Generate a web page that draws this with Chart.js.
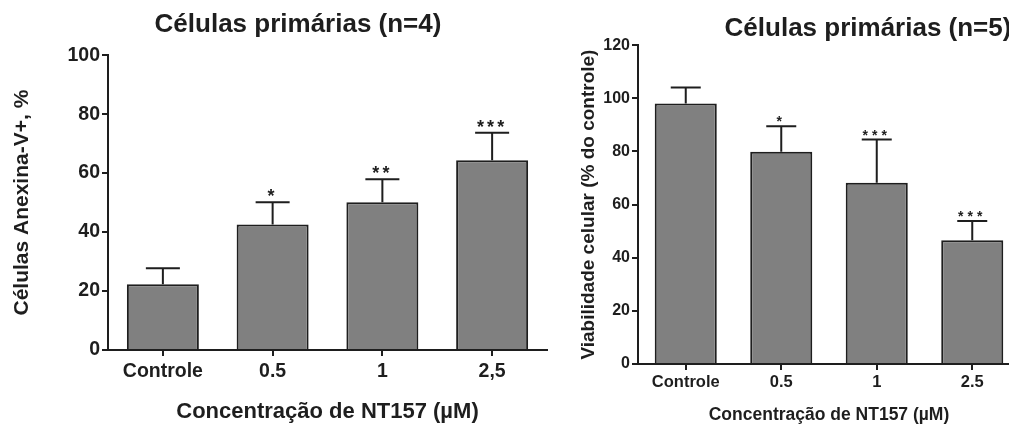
<!DOCTYPE html>
<html>
<head>
<meta charset="utf-8">
<script src="https://cdn.jsdelivr.net/npm/chart.js@4"></script>
<style>
  html, body { margin: 0; padding: 0; background: #fff; }
  body { width: 1009px; height: 424px; overflow: hidden; position: relative; }
  canvas { position: absolute; top: 0; }
  #anexina { left: 0; }
  #viab { left: 560px; }
</style>
</head>
<body>
<canvas id="anexina" width="596" height="424"></canvas>
<canvas id="viab" width="616" height="424"></canvas>
<script>
// doses NT157
const anexinaLabels = ['Controle', '0.5', '1', '2,5'];
const viabLabels = ['Controle', '0.5', '1', '2.5'];

// % células Anexina-V+ (n=4), média e erro
const anexinaMean = [22.3, 42.6, 50.1, 64.4];
const anexinaErr = [5.4, 7.5, 7.8, 9.3];
const anexinaSig = ['', '*', '**', '***'];

// viabilidade (% do controle, n=5)
const viabMean = [98.1, 79.9, 68.2, 46.6];
const viabErr = [6.0, 9.6, 16.3, 7.2];
const viabSig = ['', '*', '***', '***'];

const INK = '#1e1e1e';
Chart.defaults.font.family = "'Liberation Sans', Arial, sans-serif";
Chart.defaults.font.weight = 'bold';
Chart.defaults.color = INK;

// barra de erro (só para cima) + asteriscos de significância
const errorBars = {
  id: 'errorBars',
  afterDatasetsDraw(chart, args, opts){
    const ctx = chart.ctx;
    const y = chart.scales.y;
    const meta = chart.getDatasetMeta(0);
    const vals = chart.data.datasets[0].data;
    ctx.save();
    ctx.strokeStyle = INK;
    ctx.lineWidth = opts.lineWidth;
    ctx.fillStyle = INK;
    ctx.font = opts.font;
    ctx.textAlign = 'center';
    ctx.textBaseline = 'alphabetic';
    ctx.letterSpacing = opts.spacing;
    meta.data.forEach((bar, i) => {
      const top = y.getPixelForValue(vals[i] + opts.errors[i]);
      ctx.beginPath();
      ctx.moveTo(bar.x, bar.y);
      ctx.lineTo(bar.x, top);
      ctx.moveTo(bar.x - opts.cap / 2, top);
      ctx.lineTo(bar.x + opts.cap / 2, top);
      ctx.stroke();
      if(opts.marks[i]) ctx.fillText(opts.marks[i], bar.x, top + opts.markOffset);
    });
    ctx.restore();
  }
};

function axisStyle(){
  return {
    border: { color: INK, width: 2 },
    grid: { drawOnChartArea: false, drawTicks: true, tickLength: 6, color: INK, lineWidth: 2, offset: false }
  };
}

function makeChart(id, cfg){
  return new Chart(document.getElementById(id), {
    type: 'bar',
    data: {
      labels: cfg.labels,
      datasets: [{
        data: cfg.mean,
        backgroundColor: '#808080',
        borderColor: INK,
        borderWidth: 2,
        categoryPercentage: 1,
        barPercentage: cfg.barPct
      }]
    },
    plugins: [errorBars],
    options: {
      responsive: false,
      animation: false,
      layout: { padding: 0 },
      plugins: {
        legend: { display: false },
        tooltip: { enabled: false },
        title: {
          display: true,
          text: cfg.title,
          color: INK,
          font: { size: 26, weight: 'bold', lineHeight: 1.2 },
          padding: cfg.titlePad
        },
        errorBars: {
          errors: cfg.err, marks: cfg.sig, cap: cfg.cap, lineWidth: 2,
          font: cfg.markFont, spacing: cfg.markSpacing, markOffset: 0
        }
      },
      scales: {
        x: {
          ...axisStyle(),
          afterFit: s => { s.height = cfg.xHeight; },
          ticks: { font: { size: cfg.tickSize, weight: 'bold' }, padding: cfg.xTickPad, maxRotation: 0 },
          title: { display: true, text: 'Concentração de NT157 (µM)', font: { size: cfg.xTitleSize, weight: 'bold', lineHeight: 1 }, padding: { top: 0, bottom: cfg.xTitlePad } }
        },
        y: {
          ...axisStyle(),
          min: 0, max: cfg.yMax,
          afterFit: s => { s.width = cfg.yWidth; },
          ticks: { stepSize: 20, font: { size: cfg.yTickSize, weight: 'bold' }, padding: 2 },
          title: { display: true, text: cfg.yTitle, font: { size: cfg.yTitleSize, weight: 'bold', lineHeight: 1.2 }, padding: { top: cfg.yTitlePad, bottom: 0 } }
        },
        // margem vazia à direita (o título continua centrado no canvas inteiro)
        margem: {
          type: 'linear',
          position: 'right',
          grid: { display: false },
          border: { display: false },
          ticks: { display: false },
          afterFit: s => { s.width = cfg.rightGap; }
        }
      }
    }
  });
}

makeChart('anexina', {
  labels: anexinaLabels, mean: anexinaMean, err: anexinaErr, sig: anexinaSig,
  title: 'Células primárias (n=4)', titlePad: { top: 9, bottom: 15 },
  yTitle: 'Células Anexina-V+, %', yTitleSize: 21, yTitlePad: 10,
  yMax: 100, yWidth: 108, yTickSize: 19.5,
  xHeight: 74, tickSize: 19.5, xTickPad: 4, xTitleSize: 22, xTitlePad: 1,
  rightGap: 49, barPct: 0.656, cap: 34,
  markFont: 'bold 18px "Liberation Sans", Arial, sans-serif', markSpacing: '3px'
});

makeChart('viab', {
  labels: viabLabels, mean: viabMean, err: viabErr, sig: viabSig,
  title: 'Células primárias (n=5)', titlePad: { top: 13, bottom: 1 },
  yTitle: 'Viabilidade celular (% do controle)', yTitleSize: 19, yTitlePad: 17,
  yMax: 120, yWidth: 78, yTickSize: 16,
  xHeight: 60, tickSize: 16.5, xTickPad: 3, xTitleSize: 17.5, xTitlePad: 0,
  rightGap: 156, barPct: 0.65, cap: 30,
  markFont: 'bold 14px "Liberation Sans", Arial, sans-serif', markSpacing: '4px'
});
</script>
</body>
</html>
